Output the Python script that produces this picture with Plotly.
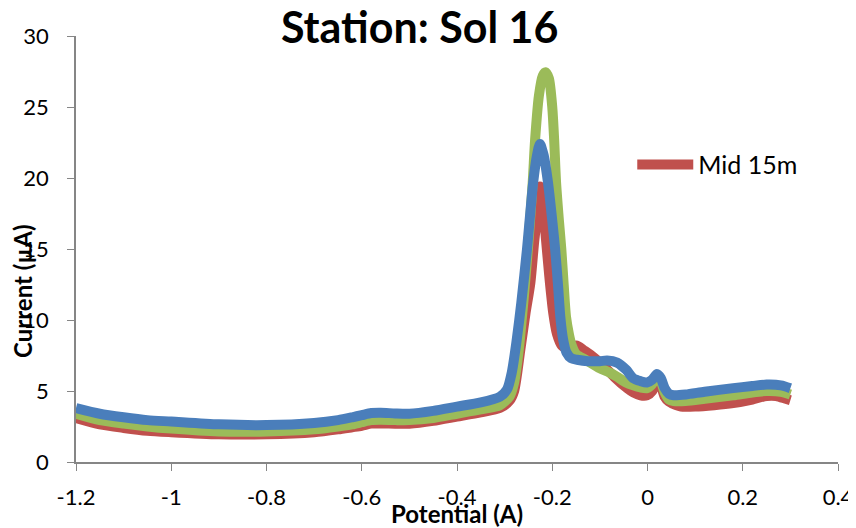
import plotly.graph_objects as go

# Potential (A) / Current (uA)
red_x = [-1.2, -1.15, -1.1, -1.05, -1.0, -0.9, -0.8, -0.7, -0.65, -0.62, -0.6, -0.58, -0.56, -0.53, -0.5,
         -0.45, -0.4, -0.35, -0.31, -0.29, -0.28, -0.267, -0.256, -0.246, -0.238, -0.232, -0.226, -0.221,
         -0.214, -0.206, -0.198, -0.19, -0.18, -0.168, -0.158, -0.148, -0.135, -0.114, -0.09, -0.07, -0.043,
         -0.03, -0.015, -0.001, 0.01, 0.02, 0.028, 0.036, 0.045, 0.06, 0.07, 0.1, 0.14, 0.18, 0.22, 0.25,
         0.27, 0.29, 0.3]
red_y = [3.1, 2.65, 2.4, 2.2, 2.1, 1.95, 1.95, 2.1, 2.3, 2.45, 2.55, 2.7, 2.72, 2.7, 2.7,
         2.9, 3.2, 3.5, 3.8, 4.3, 5.0, 7.9, 10.5, 12.6, 15.5, 17.3, 19.4, 18.5,
         16.0, 13.0, 10.5, 9.0, 8.2, 8.0, 8.15, 8.2, 7.9, 7.4, 6.7, 6.0, 5.2,
         4.9, 4.7, 4.7, 5.0, 5.8, 5.4, 4.6, 4.25, 4.0, 3.9, 3.9, 4.0, 4.15, 4.4, 4.65,
         4.65, 4.45, 4.35]

green_x = [-1.2, -1.15, -1.1, -1.05, -1.0, -0.9, -0.8, -0.7, -0.65, -0.62, -0.6, -0.58, -0.56, -0.53, -0.5,
           -0.45, -0.4, -0.35, -0.31, -0.29, -0.28, -0.27, -0.26, -0.25, -0.241, -0.236, -0.228, -0.22,
           -0.214, -0.207, -0.2, -0.196, -0.192, -0.186, -0.181, -0.176, -0.171, -0.165, -0.16, -0.15, -0.13,
           -0.1, -0.08, -0.064, -0.045, -0.03, -0.015, -0.001, 0.01, 0.02, 0.028, 0.036, 0.045, 0.055, 0.08,
           0.12, 0.18, 0.22, 0.25, 0.28, 0.3]
green_y = [3.4, 2.95, 2.7, 2.5, 2.35, 2.15, 2.15, 2.3, 2.5, 2.65, 2.8, 2.95, 2.97, 2.95, 2.95,
           3.1, 3.4, 3.7, 4.0, 4.6, 5.6, 8.0, 11.5, 15.5, 19.7, 22.7, 25.8, 27.2,
           27.45, 27.0, 25.0, 22.7, 19.7, 17.0, 15.0, 12.5, 10.2, 9.0, 8.3, 7.6, 7.2,
           6.6, 6.3, 6.0, 5.6, 5.4, 5.25, 5.2, 5.5, 6.1, 5.7, 4.9, 4.4, 4.3, 4.3,
           4.45, 4.7, 4.9, 5.0, 4.95, 4.75]

blue_x = [-1.2, -1.15, -1.1, -1.05, -1.0, -0.9, -0.8, -0.7, -0.65, -0.62, -0.6, -0.58, -0.56, -0.53, -0.5,
          -0.45, -0.4, -0.35, -0.31, -0.295, -0.285, -0.275, -0.265, -0.253, -0.24, -0.232, -0.226, -0.218,
          -0.209, -0.2, -0.194, -0.188, -0.183, -0.177, -0.17, -0.16, -0.148, -0.125, -0.1, -0.085, -0.064,
          -0.045, -0.03, -0.015, -0.001, 0.01, 0.02, 0.028, 0.036, 0.045, 0.055, 0.08, 0.12, 0.18, 0.22,
          0.25, 0.28, 0.3]
blue_y = [3.8, 3.4, 3.15, 2.95, 2.85, 2.65, 2.6, 2.75, 2.95, 3.15, 3.3, 3.45, 3.47, 3.42, 3.4,
          3.6, 3.9, 4.2, 4.6, 5.1, 6.3, 8.5, 11.2, 15.0, 19.7, 21.6, 22.4, 21.6,
          19.7, 17.0, 15.0, 12.5, 10.2, 8.6, 7.7, 7.3, 7.2, 7.1, 7.1, 7.15, 7.0,
          6.5, 5.9, 5.7, 5.6, 5.8, 6.2, 5.9, 5.2, 4.8, 4.7, 4.75, 4.95, 5.2, 5.35,
          5.45, 5.4, 5.2]

legend_name = "Mid 15m"
title_text = "Station: Sol 16"
x_title = "Potential (A)"
y_title = "Current (µA)"
x_ticks = [-1.2, -1.0, -0.8, -0.6, -0.4, -0.2, 0.0, 0.2, 0.4]
x_tick_text = ["-1.2", "-1", "-0.8", "-0.6", "-0.4", "-0.2", "0", "0.2", "0.4"]
y_ticks = [0, 5, 10, 15, 20, 25, 30]

FONT = "Lato"
fig = go.Figure()
fig.add_trace(go.Scatter(x=red_x, y=red_y, mode="lines", name=legend_name,
                         line=dict(color="#C0504D", width=10, shape="spline", smoothing=0.7),
                         showlegend=True))
fig.add_trace(go.Scatter(x=green_x, y=green_y, mode="lines", name="green",
                         line=dict(color="#9BBB59", width=10, shape="spline", smoothing=0.7),
                         showlegend=False))
fig.add_trace(go.Scatter(x=blue_x, y=blue_y, mode="lines", name="blue",
                         line=dict(color="#4A7EBB", width=10, shape="spline", smoothing=0.7),
                         showlegend=False))

# the page body adds an 8px offset, so margins compensate for it
fig.update_layout(
    width=856, height=528,
    margin=dict(l=68, r=26, t=28, b=74, autoexpand=False),
    paper_bgcolor="white", plot_bgcolor="white",
    font=dict(family=FONT, size=22, color="#000000"),
    title=dict(text=f"<b>{title_text}</b>", x=0.481, xref="container", xanchor="center",
               y=0.962, yref="container", yanchor="middle",
               font=dict(family=FONT, size=43, color="#000000")),
    legend=dict(x=0.73, y=0.698, xanchor="left", yanchor="middle", bgcolor="rgba(0,0,0,0)",
                itemwidth=56, font=dict(family=FONT, size=25)),
    xaxis=dict(range=[-1.2, 0.4], tickvals=x_ticks, ticktext=x_tick_text, showgrid=False, zeroline=False,
               showline=True, linecolor="#868686", linewidth=1.5, ticks="outside", ticklen=7,
               tickcolor="#868686", tickfont=dict(family=FONT, size=22), ticklabelstandoff=8,
               automargin=False),
    yaxis=dict(range=[0, 30], tickvals=y_ticks, showgrid=False, zeroline=False,
               showline=True, linecolor="#868686", linewidth=1.5, ticks="outside", ticklen=7,
               tickcolor="#868686", tickfont=dict(family=FONT, size=22), ticklabelstandoff=14,
               automargin=False),
    annotations=[
        dict(text=f"<b>{x_title}</b>", xref="paper", yref="paper", x=0.50, y=-0.122,
             xanchor="center", yanchor="middle", showarrow=False, font=dict(family=FONT, size=24)),
        dict(text=f"<b>{y_title}</b>", xref="paper", yref="paper", x=-0.0704, y=0.40,
             xanchor="center", yanchor="middle", textangle=-90, showarrow=False,
             font=dict(family=FONT, size=24)),
    ],
)

fig.write_html("out.html")
